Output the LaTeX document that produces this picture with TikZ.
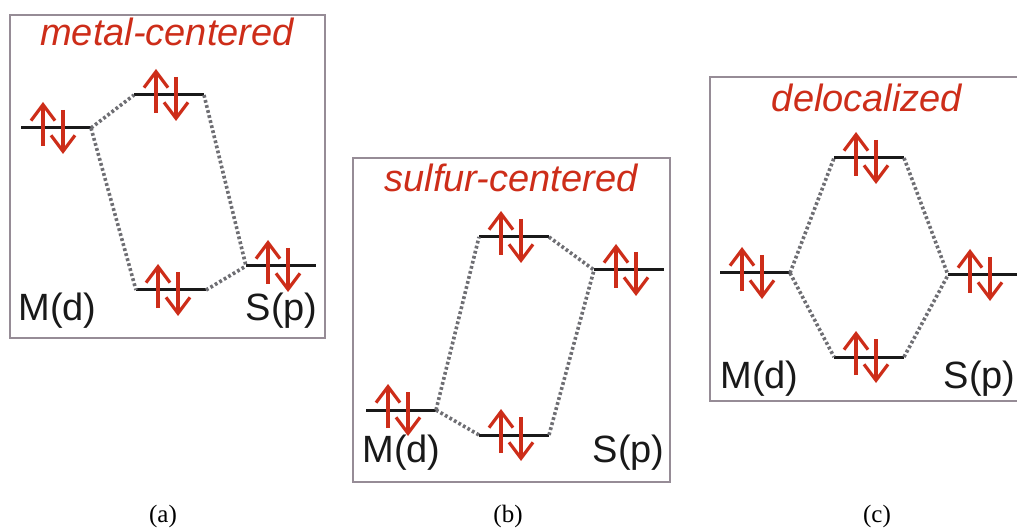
\documentclass[tikz,border=0pt]{standalone}
\usepackage{fontspec}
\usetikzlibrary{arrows.meta}
\setmainfont{Liberation Sans}
\newfontfamily\capfont{Liberation Serif}
\definecolor{spinred}{RGB}{205, 45, 25}
\definecolor{linkgray}{RGB}{110, 110, 115}
\definecolor{framegray}{RGB}{150, 140, 150}
% one MO level with its electron pair
\providecommand{\orbital}[3]{%
  \node[lvl] (#1) at (#2,#3) {};
  \draw[lvline] (#1.west) -- (#1.east);
  \draw[spin] ([xshift=-6.5pt,yshift=-9pt]#1.center) -- ++(0,22pt);
  \draw[spin] ([xshift=3.5pt,yshift=9pt]#1.center) -- ++(0,-22pt);
}

\begin{document}
\begin{tikzpicture}[x=0.5pt, y=-0.5pt,
      lvl/.style={inner sep=0pt, outer sep=0pt, minimum height=0pt,
                  minimum width=35pt},
      lvline/.style={draw=black!90, line width=1.5pt},
      spin/.style={draw=spinred, line width=1.6pt,
                   -{Straight Barb[length=8pt, width=12pt]}},
      link/.style={draw=linkgray, line width=1.8pt,
                   dash pattern=on 1.4pt off 1.2pt},
      frame/.style={draw=framegray, line width=1pt},
      ttl/.style={font=\fontsize{19}{22}\selectfont\itshape,
                  text=spinred, anchor=base, inner sep=0pt},
      mlbl/.style={font=\fontsize{19}{22}\selectfont,
                   text=black!90, inner sep=0pt},
      captxt/.style={font=\capfont\fontsize{12.5}{14}\selectfont,
                     anchor=base, inner sep=0pt},
    ]
    \useasboundingbox (0,0) rectangle (1017,529);
    \clip (0,0) rectangle (1017,529);
    %% panel frames
    \draw[frame] (10,15) rectangle (325,338);
    \draw[frame] (353,158) rectangle (670,482);
    \draw[frame] (710,77) rectangle (1030,401);
    %% levels: M(d), upper MO, lower MO, S(p)
    \foreach \n/\x/\y in {aM/56/128, aT/169/95, aB/171/290, aS/281/266,
                          bM/401/410, bT/514/237, bB/514/435, bS/629/270,
                          cM/755/273, cT/869/158, cB/869/357, cS/983/275}{
      \orbital{\n}{\x}{\y}
    }
    %% correlation lines
    \foreach \p in {a,b,c}{
      \draw[link] (\p M.east) -- (\p T.west);
      \draw[link] (\p M.east) -- (\p B.west);
      \draw[link] (\p T.east) -- (\p S.west);
      \draw[link] (\p B.east) -- (\p S.west);
    }
    %% titles
    \node[ttl] (ttla) at (167,46) {metal-centered};
    \node[ttl] (ttlb) at (511,192) {sulfur-centered};
    \node[ttl] (ttlc) at (867,112) {delocalized};
    %% fragment labels
    \node[mlbl, anchor=base west] (mda) at (18,321) {M(d)};
    \node[mlbl, anchor=base east] (spa) at (318,321) {S(p)};
    \node[mlbl, anchor=base west] (mdb) at (362,462) {M(d)};
    \node[mlbl, anchor=base east] (spb) at (665,462) {S(p)};
    \node[mlbl, anchor=base west] (mdc) at (720,388) {M(d)};
    \node[mlbl, anchor=base east] (spc) at (1016,388) {S(p)};
    %% captions
    \node[captxt] (capa) at (163,522) {(a)};
    \node[captxt] (capb) at (508,522) {(b)};
    \node[captxt] (capc) at (877,522) {(c)};
\end{tikzpicture}
\end{document}
